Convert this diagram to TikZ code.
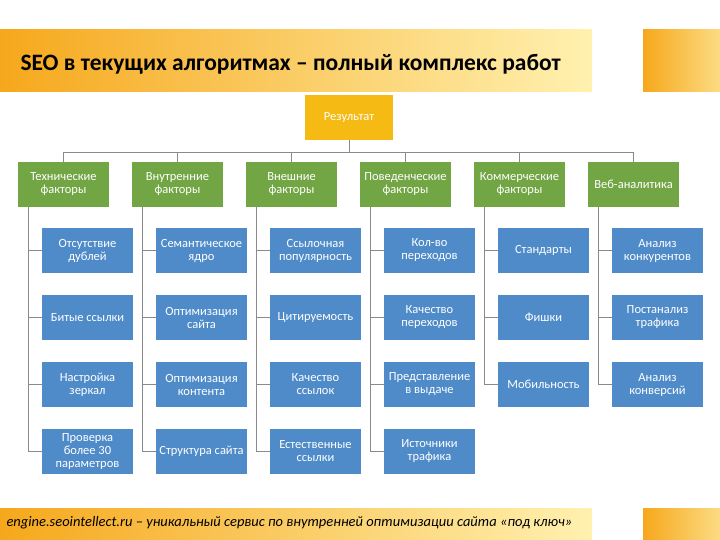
\documentclass[tikz,border=0pt]{standalone}
\usepackage{fontspec}
\setmainfont{Carlito}
\definecolor{gr}{HTML}{72A544}
\definecolor{bl}{HTML}{4F8BC9}
\definecolor{gold}{HTML}{F5BA14}
\definecolor{orA}{HTML}{F6A81C}
\definecolor{orB}{HTML}{FFF1B0}
\definecolor{ln}{HTML}{8A8A8A}
\begin{document}
\begin{tikzpicture}[x=1pt,y=-1pt,
  box/.style={minimum width=91pt,minimum height=45pt,inner sep=1pt,align=center,text=white,font=\fontsize{12.5}{13}\selectfont},
  top/.style={box,fill=gold,minimum width=88pt},
  cat/.style={box,fill=gr},
  leaf/.style={box,fill=bl},
  con/.style={draw=ln,line width=0.8pt}]
\useasboundingbox (0,0) rectangle (720,540);
\fill[white] (0,0) rectangle (720,540);
\shade[left color=orA,right color=orB] (0,30) rectangle (592,92);
\shade[left color=orA,right color=orB!70!orA] (643,30) rectangle (720,92);
\shade[left color=orA,right color=orB] (0,508) rectangle (592,540);
\shade[left color=orA,right color=orB!70!orA] (643,508) rectangle (720,540);
\node[anchor=west,font=\bfseries\fontsize{23.5}{26}\selectfont] (title) at (17,64) {SEO в текущих алгоритмах – полный комплекс работ};
\node[anchor=west,font=\itshape\fontsize{14.5}{16}\selectfont] (foot) at (3,523) {engine.seointellect.ru – уникальный сервис по внутренней оптимизации сайта «под ключ»};
\node[top] (r) at (349,117.5) {Результат};
\coordinate (hb) at (349,152);
\draw[con] (r.south) -- (hb);
\foreach \i/\t in {0/{Технические\\факторы},1/{Внутренние\\факторы},2/{Внешние\\факторы},3/{Поведенческие\\факторы},4/{Коммерческие\\факторы},5/{Веб-аналитика}}{
  \node[cat] (c\i) at (63.5+114*\i,184.5) {\t};
  \coordinate (h\i) at (63.5+114*\i,152);
}
\draw[con] (h0) -- (h5);
\foreach \i in {0,...,5}{\draw[con] (h\i) -- (c\i.north);}
\foreach \i/\j/\t in {
0/1/{Отсутствие\\дублей},0/2/{Битые ссылки},0/3/{Настройка\\зеркал},0/4/{Проверка\\более 30\\параметров},
1/1/{Семантическое\\ядро},1/2/{Оптимизация\\сайта},1/3/{Оптимизация\\контента},1/4/{Структура сайта},
2/1/{Ссылочная\\популярность},2/2/{Цитируемость},2/3/{Качество\\ссылок},2/4/{Естественные\\ссылки},
3/1/{Кол-во\\переходов},3/2/{Качество\\переходов},3/3/{Представление\\в выдаче},3/4/{Источники\\трафика},
4/1/{Стандарты},4/2/{Фишки},4/3/{Мобильность},
5/1/{Анализ\\конкурентов},5/2/{Постанализ\\трафика},5/3/{Анализ\\конверсий}}{
  \node[leaf] (l\i\j) at (87.5+114*\i,183.5+67*\j) {\t};
  \draw[con] ([xshift=-35.5pt]c\i.south) |- (l\i\j.west);
}
\end{tikzpicture}
\end{document}
